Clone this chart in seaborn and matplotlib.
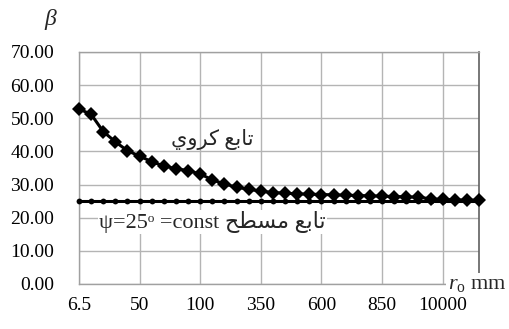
import matplotlib
matplotlib.use("Agg")
import matplotlib.pyplot as plt
import seaborn as sns
import pandas as pd

r_o = ["6.5", "10", "20", "30", "40", "50", "60", "70", "80", "90",
       "100", "150", "200", "250", "300", "350", "400", "450", "500", "550",
       "600", "650", "700", "750", "800", "850", "900", "950", "1000", "5000",
       "10000", "20000", "50000", "100000"]
beta_spherical = [52.8, 51.2, 46.0, 42.9, 40.2, 38.6, 36.9, 35.6, 34.8, 34.2,
                  33.2, 31.4, 30.2, 29.2, 28.6, 28.0, 27.6, 27.4, 27.2, 27.1,
                  27.0, 26.9, 26.8, 26.7, 26.6, 26.5, 26.4, 26.3, 26.2, 25.7,
                  25.5, 25.4, 25.3, 25.3]
beta_flat = [25.0] * len(r_o)
y_ticks = [0, 10, 20, 30, 40, 50, 60, 70]
shown_labels = ["6.5", "50", "100", "350", "600", "850", "10000"]

sns.set_theme(style="white")
plt.rcParams["font.family"] = ["Liberation Serif", "DejaVu Sans"]
plt.rcParams["mathtext.fontset"] = "custom"
plt.rcParams["mathtext.rm"] = "Liberation Serif"
plt.rcParams["mathtext.it"] = "Liberation Serif:italic"

df = pd.DataFrame({"r_o": r_o, "spherical": beta_spherical, "flat": beta_flat})

fig = plt.figure(figsize=(5.09, 3.29), dpi=100)
ax = fig.add_axes([79 / 509, 1 - 284 / 329, 400 / 509, 232 / 329])

sns.lineplot(data=df, x="r_o", y="flat", ax=ax, sort=False, color="black",
             linewidth=2.2, marker="o", markersize=4.2, markeredgewidth=0,
             clip_on=False, zorder=3)
sns.lineplot(data=df, x="r_o", y="spherical", ax=ax, sort=False, color="black",
             linewidth=2.2, marker="D", markersize=6.8, markeredgewidth=0,
             clip_on=False, zorder=4)

ax.set_xlim(0, len(r_o) - 1)
ax.set_ylim(0, 70)
ax.set_yticks(y_ticks)
ax.set_yticklabels([f"{v:.2f}" for v in y_ticks])
pos = [r_o.index(l) for l in shown_labels]
ax.set_xticks(pos)
ax.set_xticklabels(shown_labels)
ax.tick_params(axis="both", labelsize=14, length=0, colors="black")
ax.tick_params(axis="y", pad=18)
ax.tick_params(axis="x", pad=9)
ax.grid(True, color="#b4b4b4", linewidth=1.0)
ax.set_axisbelow(True)
for s in ["left", "top", "bottom"]:
    ax.spines[s].set_color("#a0a0a0")
    ax.spines[s].set_linewidth(1.0)
ax.spines["right"].set_color("#606060")
ax.spines["right"].set_linewidth(1.2)
ax.set_xlabel("")
ax.set_ylabel("")

# Arabic labels (presentation forms, visual order)
sph = "\uFEF1\uFEED\uFEAE\uFEDB \uFECA\uFE91\uFE8E\uFE97"
flat = "ψ=25\u1D52 =const \uFEA2\uFEC4\uFEB4\uFEE3 \uFECA\uFE91\uFE8E\uFE97"
fig.text(212 / 509, 1 - 139 / 329, sph, fontsize=15, ha="center", va="center",
         family=["Liberation Serif", "DejaVu Sans"])
fig.text(99 / 509, 1 - 222 / 329, flat, fontsize=16, ha="left", va="center",
         family=["Liberation Serif", "DejaVu Sans"],
         bbox=dict(facecolor="white", edgecolor="none", pad=1.0), zorder=5)

fig.text(44 / 509, 1 - 19 / 329, r"$\beta$", fontsize=17, ha="left", va="center")
fig.text(507 / 509, 1 - 285 / 329, r"$r_\mathrm{o}$ mm", fontsize=16, ha="right",
         va="center", bbox=dict(facecolor="white", edgecolor="none", pad=2), zorder=5)

fig.savefig("out.png", dpi=100)
